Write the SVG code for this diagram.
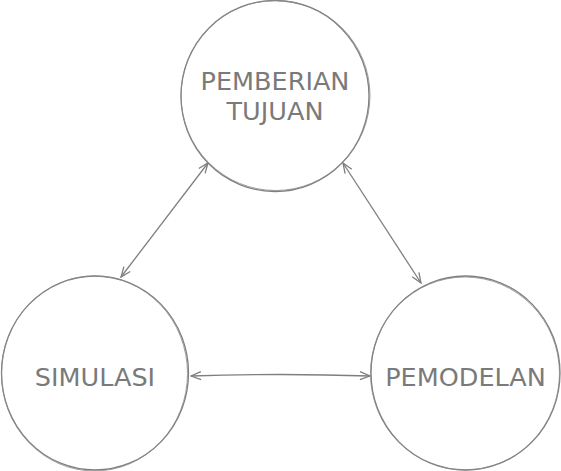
<svg xmlns="http://www.w3.org/2000/svg" width="561" height="471" viewBox="0 0 561 471">
<defs>
<style>
.node{fill:#ffffff;stroke:#7f7f7f;stroke-width:1.3}
.node2{fill:none;stroke:#8a8a8a;stroke-width:0.8}
.lbl{font-family:"DejaVu Sans",Verdana,sans-serif;font-size:25.5px;fill:#7a7a7a;text-anchor:middle}
.edge{fill:none;stroke:#7f7f7f;stroke-width:1.3}
</style>
<marker id="arr" viewBox="0 0 12 10" refX="11" refY="5" markerWidth="12" markerHeight="10" markerUnits="userSpaceOnUse" orient="auto-start-reverse">
<path d="M1,1 L11,5 L1,9" fill="none" stroke="#7f7f7f" stroke-width="1.3"/>
</marker>
</defs>
<rect width="561" height="471" fill="#ffffff"/>
<g id="connectors">
<path class="edge" d="M121,277 L208,163" marker-start="url(#arr)" marker-end="url(#arr)"/>
<path class="edge" d="M343,163 L421,283" marker-start="url(#arr)" marker-end="url(#arr)"/>
<path class="edge" d="M191,376 Q280,373 370,376" marker-start="url(#arr)" marker-end="url(#arr)"/>
</g>
<g id="node-pemberian">
<ellipse class="node" cx="275" cy="96" rx="94" ry="95.5"/>
<ellipse class="node2" cx="275.5" cy="95.5" rx="94.5" ry="95"/>
<text class="lbl" x="275" y="90">PEMBERIAN</text>
<text class="lbl" x="275" y="120">TUJUAN</text>
</g>
<g id="node-simulasi">
<ellipse class="node" cx="95" cy="373" rx="93.5" ry="97"/>
<ellipse class="node2" cx="94.5" cy="373.5" rx="93" ry="97.5"/>
<text class="lbl" x="95" y="386">SIMULASI</text>
</g>
<g id="node-pemodelan">
<ellipse class="node" cx="465.5" cy="373" rx="94.5" ry="97"/>
<ellipse class="node2" cx="465" cy="373.5" rx="94.5" ry="96.5"/>
<text class="lbl" x="465.5" y="386">PEMODELAN</text>
</g>
</svg>
